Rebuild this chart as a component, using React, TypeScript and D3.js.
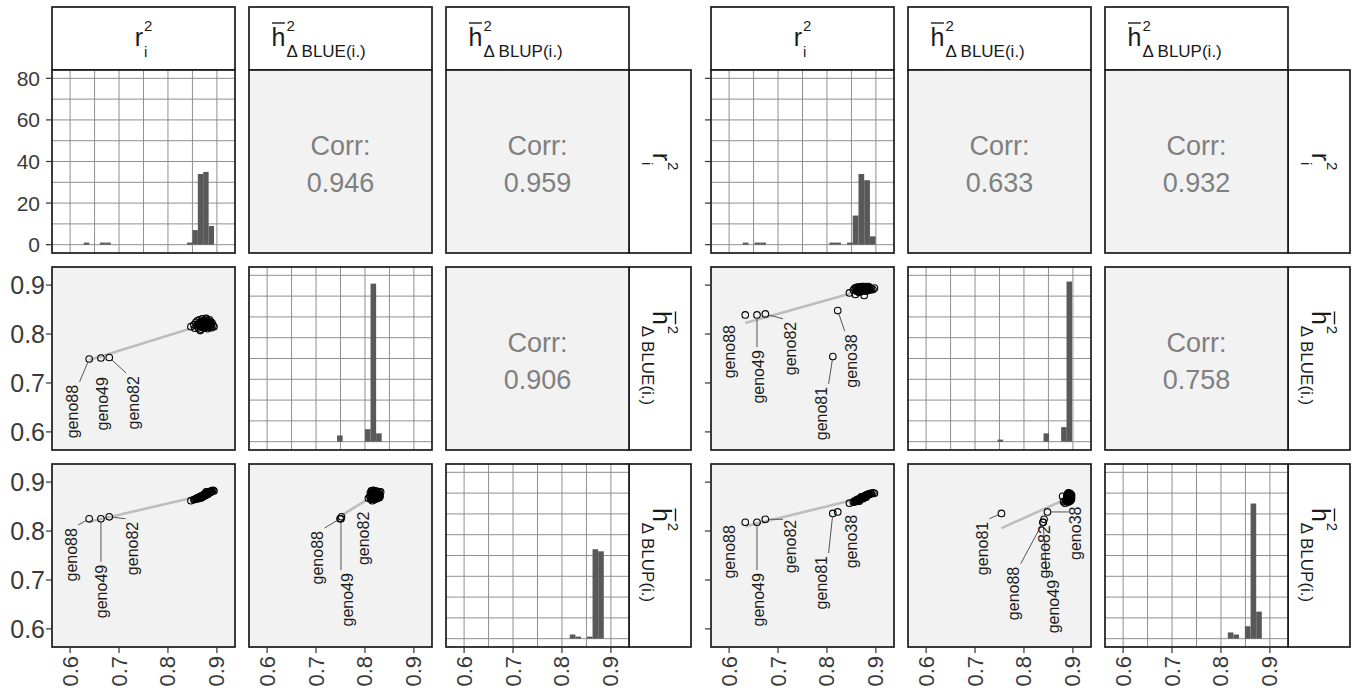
import React from 'react';
import * as d3 from 'd3';

// ---------------- data ----------------
const VAR_KEYS = ['r2', 'hBLUE', 'hBLUP'];
const AXIS_TICKS = [0.6, 0.7, 0.8, 0.9];
const AXIS_GRID = [0.6, 0.65, 0.7, 0.75, 0.8, 0.85, 0.9];
const COUNT_TICKS = [0, 20, 40, 60, 80];
const COUNT_GRID = [0, 10, 20, 30, 40, 50, 60, 70, 80];

const CORR_LEFT = [0.946, 0.959, 0.906];
const CORR_RIGHT = [0.633, 0.932, 0.758];

// left matrix: labelled genotypes
const L_OUT_NAMES = ['geno88', 'geno49', 'geno82'];
const L_OUT_R2 = [0.639, 0.663, 0.68];
const L_OUT_HBLUE = [0.749, 0.751, 0.752];
const L_OUT_HBLUP = [0.825, 0.825, 0.829];

// left matrix: remaining genotypes
const L_CL_R2 = [0.847, 0.853, 0.855, 0.857, 0.859, 0.86, 0.862, 0.863, 0.864, 0.865, 0.866, 0.867, 0.868, 0.869, 0.87, 0.871, 0.872, 0.873, 0.874, 0.875, 0.876, 0.877, 0.878, 0.879, 0.88, 0.881, 0.882, 0.883, 0.884, 0.885, 0.886, 0.887, 0.888, 0.889, 0.89, 0.892, 0.894, 0.87, 0.876, 0.882, 0.866, 0.878,
  0.864, 0.867, 0.868, 0.869, 0.871, 0.872, 0.873, 0.874, 0.875, 0.876, 0.877, 0.878, 0.879, 0.88, 0.881, 0.883, 0.884, 0.885, 0.862, 0.87, 0.873, 0.877, 0.88, 0.886, 0.888, 0.871, 0.875, 0.879, 0.882, 0.868];
const L_CL_HBLUE = [0.815, 0.819, 0.812, 0.824, 0.817, 0.827, 0.813, 0.821, 0.829, 0.816, 0.823, 0.81, 0.826, 0.818, 0.831, 0.814, 0.822, 0.828, 0.812, 0.82, 0.825, 0.816, 0.83, 0.819, 0.824, 0.811, 0.827, 0.817, 0.822, 0.829, 0.814, 0.825, 0.819, 0.813, 0.823, 0.817, 0.815, 0.825, 0.815, 0.821, 0.807, 0.832,
  0.818, 0.82, 0.816, 0.822, 0.819, 0.817, 0.821, 0.818, 0.823, 0.819, 0.821, 0.818, 0.822, 0.817, 0.82, 0.823, 0.818, 0.821, 0.82, 0.823, 0.815, 0.826, 0.814, 0.82, 0.822, 0.826, 0.816, 0.825, 0.819, 0.821];
const L_CL_HBLUP = [0.862, 0.864, 0.865, 0.866, 0.866, 0.868, 0.867, 0.869, 0.868, 0.87, 0.869, 0.871, 0.87, 0.872, 0.871, 0.873, 0.872, 0.874, 0.873, 0.875, 0.874, 0.876, 0.875, 0.877, 0.876, 0.878, 0.877, 0.879, 0.878, 0.88, 0.879, 0.881, 0.88, 0.882, 0.881, 0.883, 0.882, 0.869, 0.872, 0.875, 0.867, 0.88,
  0.868, 0.87, 0.869, 0.871, 0.871, 0.873, 0.872, 0.874, 0.873, 0.875, 0.874, 0.876, 0.876, 0.877, 0.877, 0.878, 0.879, 0.879, 0.866, 0.871, 0.873, 0.876, 0.878, 0.88, 0.881, 0.872, 0.874, 0.875, 0.878, 0.868];

// right matrix: labelled genotypes
const R_OUT_NAMES = ['geno88', 'geno49', 'geno82', 'geno81', 'geno38'];
const R_OUT_R2 = [0.633, 0.657, 0.674, 0.812, 0.822];
const R_OUT_HBLUE = [0.839, 0.839, 0.841, 0.754, 0.848];
const R_OUT_HBLUP = [0.818, 0.818, 0.824, 0.836, 0.839];

// right matrix: remaining genotypes
const R_CL_R2 = [0.846, 0.854, 0.856, 0.858, 0.859, 0.86, 0.861, 0.862, 0.863, 0.864, 0.865, 0.866, 0.867, 0.868, 0.869, 0.87, 0.871, 0.872, 0.873, 0.874, 0.875, 0.876, 0.877, 0.878, 0.879, 0.88, 0.881, 0.882, 0.883, 0.884, 0.885, 0.886, 0.887, 0.889, 0.891, 0.894, 0.897, 0.866, 0.874, 0.87, 0.88, 0.862,
  0.862, 0.864, 0.866, 0.867, 0.868, 0.869, 0.87, 0.871, 0.872, 0.873, 0.874, 0.875, 0.876, 0.877, 0.878, 0.879, 0.88, 0.881, 0.882, 0.884, 0.865, 0.87, 0.873, 0.877, 0.88, 0.883, 0.886, 0.868, 0.875, 0.879];
const R_CL_HBLUE = [0.884, 0.89, 0.893, 0.881, 0.895, 0.889, 0.892, 0.887, 0.896, 0.891, 0.888, 0.894, 0.89, 0.896, 0.887, 0.893, 0.891, 0.897, 0.889, 0.894, 0.892, 0.879, 0.895, 0.89, 0.893, 0.888, 0.896, 0.891, 0.894, 0.889, 0.897, 0.892, 0.895, 0.89, 0.893, 0.891, 0.894, 0.885, 0.897, 0.888, 0.895, 0.893,
  0.891, 0.893, 0.89, 0.894, 0.892, 0.89, 0.895, 0.893, 0.891, 0.894, 0.89, 0.895, 0.892, 0.89, 0.894, 0.891, 0.893, 0.889, 0.895, 0.892, 0.896, 0.889, 0.896, 0.888, 0.897, 0.89, 0.894, 0.888, 0.892, 0.896];
const R_CL_HBLUP = [0.857, 0.859, 0.861, 0.86, 0.862, 0.861, 0.863, 0.862, 0.864, 0.863, 0.865, 0.864, 0.866, 0.867, 0.866, 0.868, 0.867, 0.869, 0.868, 0.87, 0.869, 0.871, 0.87, 0.872, 0.871, 0.873, 0.872, 0.874, 0.873, 0.875, 0.874, 0.876, 0.875, 0.877, 0.876, 0.878, 0.877, 0.861, 0.866, 0.87, 0.869, 0.865,
  0.863, 0.864, 0.865, 0.866, 0.866, 0.867, 0.868, 0.868, 0.868, 0.869, 0.869, 0.87, 0.87, 0.871, 0.871, 0.872, 0.872, 0.873, 0.873, 0.874, 0.864, 0.867, 0.869, 0.871, 0.872, 0.874, 0.875, 0.866, 0.869, 0.873];

// histograms (bin starts, counts, bin width)
const L_H_R2_START = [0.628, 0.661, 0.672, 0.839, 0.85, 0.861, 0.872, 0.883];
const L_H_R2_COUNT = [1, 1, 1, 1, 7, 34, 35, 9];
const L_H_R2_W = 0.0111;
const L_H_HBLUE_START = [0.743, 0.8, 0.8114, 0.8228];
const L_H_HBLUE_COUNT = [3, 6, 76, 4];
const L_H_HBLUE_W = 0.0114;
const L_H_HBLUP_START = [0.816, 0.8275, 0.851, 0.8625, 0.874];
const L_H_HBLUP_COUNT = [2, 1, 1, 43, 42];
const L_H_HBLUP_W = 0.0115;

const R_H_R2_START = [0.628, 0.652, 0.6637, 0.805, 0.8167, 0.841, 0.8527, 0.8644, 0.8761, 0.8878];
const R_H_R2_COUNT = [1, 1, 1, 1, 1, 1, 14, 34, 31, 4];
const R_H_R2_W = 0.0117;
const R_H_HBLUE_START = [0.746, 0.84, 0.876, 0.887];
const R_H_HBLUE_COUNT = [1, 4, 7, 77];
const R_H_HBLUE_W = 0.0113;
const R_H_HBLUP_START = [0.814, 0.8255, 0.849, 0.8605, 0.872];
const R_H_HBLUP_COUNT = [3, 2, 6, 65, 13];
const R_H_HBLUP_W = 0.0115;

// label anchor positions (data units: centre x, top y of the rotated label)
const L_LAB_10_X = [0.605, 0.667, 0.729];
const L_LAB_10_Y = [0.696, 0.712, 0.714];
const L_LAB_10_SEG = [1, 0, 1];
const L_LAB_20_X = [0.602, 0.665, 0.7275];
const L_LAB_20_Y = [0.806, 0.731, 0.819];
const L_LAB_20_SEG = [1, 1, 1];
const L_LAB_21_X = [0.703, 0.764, 0.798];
const L_LAB_21_Y = [0.8, 0.714, 0.8395];
const L_LAB_21_SEG = [1, 1, 0];

const R_LAB_10_X = [0.6, 0.661, 0.7245, 0.789, 0.8506];
const R_LAB_10_Y = [0.8185, 0.767, 0.825, 0.692, 0.7995];
const R_LAB_10_SEG = [0, 1, 1, 1, 1];
const R_LAB_20_X = [0.6, 0.661, 0.7245, 0.789, 0.8506];
const R_LAB_20_Y = [0.812, 0.714, 0.823, 0.749, 0.833];
const R_LAB_20_SEG = [0, 1, 1, 1, 0];
const R_LAB_21_X = [0.779, 0.861, 0.841, 0.715, 0.906];
const R_LAB_21_Y = [0.727, 0.7, 0.812, 0.819, 0.85];
const R_LAB_21_SEG = [1, 1, 0, 1, 1];

// ---------------- layout ----------------
const W = 1356;
const H = 697;
const PANEL = 183;
const ROW_TOP = [70, 267, 464];
const STRIP_TOP = 7;
const STRIP_H = 63;
const STRIP_W = 62;
const DOMAIN: [number, number] = [0.563, 0.937];
const COUNT_DOMAIN: [number, number] = [-4, 84];
const FONT = '"Liberation Sans", Arial, Helvetica, sans-serif';
const GREY_BG = '#f2f2f2';
const BORDER = '#1a1a1a';
const BAR = '#595959';

type Hist = { start: number[]; count: number[]; w: number };
type Lab = { x: number[]; y: number[]; seg: number[] };
type Mat = {
  cols: number[];
  stripX: number;
  yLabels: boolean;
  names: string[];
  data: Record<string, number[]>;
  hist: Hist[];
  corr: number[];
  labels: Record<string, Lab>;
};

const MATS: Mat[] = [
  {
    cols: [52, 249, 446],
    stripX: 629,
    yLabels: true,
    names: L_OUT_NAMES,
    data: {
      r2: [...L_OUT_R2, ...L_CL_R2],
      hBLUE: [...L_OUT_HBLUE, ...L_CL_HBLUE],
      hBLUP: [...L_OUT_HBLUP, ...L_CL_HBLUP],
    },
    hist: [
      { start: L_H_R2_START, count: L_H_R2_COUNT, w: L_H_R2_W },
      { start: L_H_HBLUE_START, count: L_H_HBLUE_COUNT, w: L_H_HBLUE_W },
      { start: L_H_HBLUP_START, count: L_H_HBLUP_COUNT, w: L_H_HBLUP_W },
    ],
    corr: CORR_LEFT,
    labels: {
      '10': { x: L_LAB_10_X, y: L_LAB_10_Y, seg: L_LAB_10_SEG },
      '20': { x: L_LAB_20_X, y: L_LAB_20_Y, seg: L_LAB_20_SEG },
      '21': { x: L_LAB_21_X, y: L_LAB_21_Y, seg: L_LAB_21_SEG },
    },
  },
  {
    cols: [711, 908, 1105],
    stripX: 1288,
    yLabels: false,
    names: R_OUT_NAMES,
    data: {
      r2: [...R_OUT_R2, ...R_CL_R2],
      hBLUE: [...R_OUT_HBLUE, ...R_CL_HBLUE],
      hBLUP: [...R_OUT_HBLUP, ...R_CL_HBLUP],
    },
    hist: [
      { start: R_H_R2_START, count: R_H_R2_COUNT, w: R_H_R2_W },
      { start: R_H_HBLUE_START, count: R_H_HBLUE_COUNT, w: R_H_HBLUE_W },
      { start: R_H_HBLUP_START, count: R_H_HBLUP_COUNT, w: R_H_HBLUP_W },
    ],
    corr: CORR_RIGHT,
    labels: {
      '10': { x: R_LAB_10_X, y: R_LAB_10_Y, seg: R_LAB_10_SEG },
      '20': { x: R_LAB_20_X, y: R_LAB_20_Y, seg: R_LAB_20_SEG },
      '21': { x: R_LAB_21_X, y: R_LAB_21_Y, seg: R_LAB_21_SEG },
    },
  },
];

const fmt = d3.format('.3f');

function lm(xs: number[], ys: number[]) {
  const mx = d3.mean(xs) as number;
  const my = d3.mean(ys) as number;
  let sxy = 0;
  let sxx = 0;
  xs.forEach((x, i) => {
    sxy += (x - mx) * (ys[i] - my);
    sxx += (x - mx) * (x - mx);
  });
  const b = sxy / sxx;
  return { b, a: my - b * mx };
}

// plotmath-like label: main letter with superscript 2 and subscript
function MathLabel({ v, cx, cy, rotate }: { v: number; cx: number; cy: number; rotate: boolean }) {
  const mainSize = 25;
  const supSize = 15;
  const subSize = v === 0 ? 15 : 17;
  const main = v === 0 ? 'r' : 'h';
  const sub = v === 0 ? 'i' : v === 1 ? '\u0394 BLUE(i.)' : '\u0394 BLUP(i.)';
  const mainW = (v === 0 ? 0.333 : 0.556) * mainSize;
  const subW = (v === 0 ? 0.222 : 4.72) * subSize;
  const supW = 0.556 * supSize;
  const total = mainW + Math.max(subW, supW) + 1;
  // the h-labels in the top strips sit a little left of centre in the original
  const x0 = v !== 0 && !rotate ? -69 : -total / 2;
  return (
    <g transform={`translate(${cx},${cy})${rotate ? ' rotate(90)' : ''}`} fontFamily={FONT} fill="#1a1a1a">
      <text x={x0} y={7} fontSize={mainSize}>{main}</text>
      {v !== 0 && (
        <line x1={x0 + 0.5} x2={x0 + mainW - 0.5} y1={-15.5} y2={-15.5} stroke="#1a1a1a" strokeWidth={1.4} />
      )}
      <text x={x0 + mainW + 1} y={-7.5} fontSize={supSize}>2</text>
      <text x={x0 + mainW + 1} y={18} fontSize={subSize}>{sub}</text>
    </g>
  );
}

function Cell({ m, i, j }: { m: Mat; i: number; j: number }) {
  const left = m.cols[j];
  const top = ROW_TOP[i];
  const x = d3.scaleLinear().domain(DOMAIN).range([left, left + PANEL]);
  const y = d3.scaleLinear().domain(DOMAIN).range([top + PANEL, top]);
  const yc = d3.scaleLinear().domain(COUNT_DOMAIN).range([top + PANEL, top]);
  const clipId = `clip-${m.cols[0]}-${i}-${j}`;
  const frame = (
    <rect x={left} y={top} width={PANEL} height={PANEL} fill="none" stroke={BORDER} strokeWidth={1.7} />
  );

  if (i === j) {
    const h = m.hist[i];
    return (
      <g>
        <rect x={left} y={top} width={PANEL} height={PANEL} fill="#ffffff" />
        {AXIS_GRID.map((g) => (
          <line key={'gx' + g} x1={x(g)} x2={x(g)} y1={top} y2={top + PANEL} stroke="#8f8f8f" strokeWidth={1} />
        ))}
        {COUNT_GRID.map((g) => (
          <line key={'gy' + g} x1={left} x2={left + PANEL} y1={yc(g)} y2={yc(g)} stroke="#8f8f8f" strokeWidth={1} />
        ))}
        {h.start.map((s, k) => (
          <rect
            key={'b' + k}
            x={x(s)}
            width={x(s + h.w) - x(s)}
            y={yc(h.count[k])}
            height={yc(0) - yc(h.count[k])}
            fill={BAR}
          />
        ))}
        {frame}
      </g>
    );
  }

  if (i < j) {
    const idx = i === 0 ? (j === 1 ? 0 : 1) : 2;
    const cx = left + PANEL / 2;
    const cy = top + PANEL / 2;
    return (
      <g>
        <rect x={left} y={top} width={PANEL} height={PANEL} fill={GREY_BG} />
        <text x={cx} y={cy - 15.5} textAnchor="middle" dominantBaseline="central" fontSize={27} fontFamily={FONT} fill="#808080">
          Corr:
        </text>
        <text x={cx} y={cy + 21.5} textAnchor="middle" dominantBaseline="central" fontSize={27} fontFamily={FONT} fill="#808080">
          {fmt(m.corr[idx])}
        </text>
        {frame}
      </g>
    );
  }

  // scatter
  const xs = m.data[VAR_KEYS[j]];
  const ys = m.data[VAR_KEYS[i]];
  const fit = lm(xs, ys);
  const [xmin, xmax] = d3.extent(xs) as [number, number];
  const lab = m.labels[`${i}${j}`];
  const LEN = 53.4;
  const HALF = 7;
  return (
    <g>
      <rect x={left} y={top} width={PANEL} height={PANEL} fill={GREY_BG} />
      <clipPath id={clipId}>
        <rect x={left} y={top} width={PANEL} height={PANEL} />
      </clipPath>
      <g clipPath={`url(#${clipId})`}>
        <line
          x1={x(xmin)}
          y1={y(fit.a + fit.b * xmin)}
          x2={x(xmax)}
          y2={y(fit.a + fit.b * xmax)}
          stroke="#bdbdbd"
          strokeWidth={2.6}
        />
        {xs.map((v, k) => (
          <circle key={'p' + k} cx={x(v)} cy={y(ys[k])} r={3.3} fill="none" stroke="#000" strokeWidth={1.1} />
        ))}
        {m.names.map((name, k) => {
          const ax = x(lab.x[k]);
          const ay = y(lab.y[k]);
          const px = x(xs[k]);
          const py = y(ys[k]);
          let seg = null;
          if (lab.seg[k]) {
            const bx0 = ax - HALF;
            const bx1 = ax + HALF;
            const by0 = ay - 3;
            const by1 = ay + LEN + 3;
            const qx = Math.max(bx0, Math.min(bx1, px));
            const qy = Math.max(by0, Math.min(by1, py));
            const dx = qx - px;
            const dy = qy - py;
            const d = Math.sqrt(dx * dx + dy * dy) || 1;
            seg = (
              <line
                x1={px + (dx / d) * 3.5}
                y1={py + (dy / d) * 3.5}
                x2={qx}
                y2={qy}
                stroke="#555"
                strokeWidth={1}
              />
            );
          }
          return (
            <g key={'l' + k}>
              {seg}
              <text
                transform={`translate(${ax},${ay}) rotate(-90)`}
                textAnchor="end"
                dominantBaseline="central"
                fontSize={16}
                fontFamily={FONT}
                fill="#1a1a1a"
              >
                {name}
              </text>
            </g>
          );
        })}
      </g>
      {frame}
    </g>
  );
}

function Matrix({ m }: { m: Mat }) {
  const cells = [];
  for (let i = 0; i < 3; i++) for (let j = 0; j < 3; j++) cells.push(<Cell key={`${i}${j}`} m={m} i={i} j={j} />);
  const xAxisY = ROW_TOP[2] + PANEL;
  return (
    <g>
      {/* top strips */}
      {m.cols.map((c, j) => (
        <g key={'ts' + j}>
          <rect x={c} y={STRIP_TOP} width={PANEL} height={STRIP_H} fill="#fff" stroke={BORDER} strokeWidth={1.7} />
          <MathLabel v={j} cx={c + PANEL / 2} cy={STRIP_TOP + STRIP_H / 2} rotate={false} />
        </g>
      ))}
      {/* right strips */}
      {ROW_TOP.map((t, i) => (
        <g key={'rs' + i}>
          <rect x={m.stripX} y={t} width={STRIP_W} height={PANEL} fill="#fff" stroke={BORDER} strokeWidth={1.7} />
          <MathLabel v={i} cx={m.stripX + STRIP_W / 2} cy={t + PANEL / 2} rotate={true} />
        </g>
      ))}
      {cells}
      {/* y axes */}
      {ROW_TOP.map((t, i) => {
        const left = m.cols[0];
        const ys = i === 0
          ? d3.scaleLinear().domain(COUNT_DOMAIN).range([t + PANEL, t])
          : d3.scaleLinear().domain(DOMAIN).range([t + PANEL, t]);
        const ticks = i === 0 ? COUNT_TICKS : AXIS_TICKS;
        return (
          <g key={'ya' + i}>
            {ticks.map((v) => (
              <g key={v}>
                <line x1={left - 6} x2={left} y1={ys(v)} y2={ys(v)} stroke="#333" strokeWidth={1.2} />
                {m.yLabels && (
                  <text
                    x={i === 0 ? left - 12 : left - 7}
                    y={ys(v)}
                    textAnchor="end"
                    dominantBaseline="central"
                    fontSize={i === 0 ? 21 : 25}
                    fontFamily={FONT}
                    fill="#3a3a3a"
                  >
                    {i === 0 ? String(v) : d3.format('.1f')(v)}
                  </text>
                )}
              </g>
            ))}
          </g>
        );
      })}
      {/* x axes */}
      {m.cols.map((c, j) => {
        const xs = d3.scaleLinear().domain(DOMAIN).range([c, c + PANEL]);
        return (
          <g key={'xa' + j}>
            {AXIS_TICKS.map((v) => (
              <g key={v}>
                <line x1={xs(v)} x2={xs(v)} y1={xAxisY} y2={xAxisY + 6} stroke="#333" strokeWidth={1.2} />
                <text
                  transform={`translate(${xs(v)},${xAxisY + 9}) rotate(-90)`}
                  textAnchor="end"
                  dominantBaseline="central"
                  fontSize={22}
                  fontFamily={FONT}
                  fill="#3a3a3a"
                >
                  {d3.format('.1f')(v)}
                </text>
              </g>
            ))}
          </g>
        );
      })}
    </g>
  );
}

export default function App() {
  return (
    <svg
      width={W}
      height={H}
      viewBox={`0 0 ${W} ${H}`}
      style={{ position: 'absolute', left: 0, top: 0, display: 'block', background: '#fff' }}
    >
      <rect width={W} height={H} fill="#fff" />
      {MATS.map((m, k) => (
        <Matrix key={k} m={m} />
      ))}
    </svg>
  );
}
